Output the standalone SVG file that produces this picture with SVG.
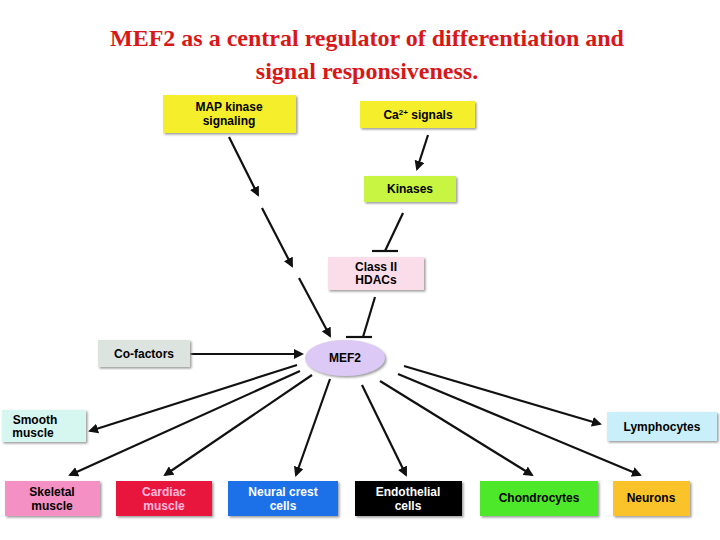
<svg xmlns="http://www.w3.org/2000/svg" width="720" height="540" viewBox="0 0 720 540">
<defs>
<marker id="a" markerWidth="10" markerHeight="10" refX="8" refY="5" orient="auto" markerUnits="userSpaceOnUse"><path d="M0,0 L10,5 L0,10 Z" fill="#111"/></marker>
<filter id="s"><feDropShadow dx="1.5" dy="1.5" stdDeviation="0.8" flood-color="#999"/></filter>
</defs>
<style>
.b{filter:url(#s)}
.t{font-family:"Liberation Sans",Arial,sans-serif;font-weight:bold;font-size:12px;text-anchor:middle}
.h{font-family:"Liberation Serif","Times New Roman",serif;font-weight:bold;font-size:24px;text-anchor:middle;fill:#d81818}
.c line{stroke:#111;stroke-width:2.2}
.m{marker-end:url(#a)}
</style>
<rect width="720" height="540" fill="#fff"/>
<text class="h" x="367" y="46">MEF2 as a central regulator of differentiation and</text>
<text class="h" x="367" y="79">signal responsiveness.</text>
<g class="c">
<line class="m" x1="229" y1="137" x2="258" y2="195"/>
<line class="m" x1="262" y1="208" x2="292" y2="266"/>
<line class="m" x1="299" y1="278" x2="330" y2="336"/>
<line class="m" x1="428" y1="135" x2="417" y2="169"/>
<line x1="403" y1="213" x2="385" y2="251"/><line x1="372" y1="251" x2="398" y2="251"/>
<line x1="375" y1="297" x2="363" y2="337"/><line x1="346" y1="337" x2="372" y2="337"/>
<line class="m" x1="190" y1="354" x2="302" y2="354"/>
<line class="m" x1="297" y1="365" x2="90" y2="431"/>
<line class="m" x1="300" y1="371" x2="70" y2="475"/>
<line class="m" x1="312" y1="375" x2="165" y2="475"/>
<line class="m" x1="330" y1="379" x2="296" y2="475"/>
<line class="m" x1="362" y1="385" x2="406" y2="475"/>
<line class="m" x1="380" y1="381" x2="532" y2="475"/>
<line class="m" x1="398" y1="374" x2="640" y2="475"/>
<line class="m" x1="404" y1="366" x2="600" y2="424"/>
</g>
<g id="map"><rect class="b" x="163" y="95" width="133" height="38" fill="#f5ee2a"/><text class="t" x="229" y="111">MAP kinase</text><text class="t" x="229" y="125">signaling</text></g>
<g id="ca"><rect class="b" x="360" y="101" width="115" height="27" fill="#f5ee2a"/><text class="t" x="418" y="119">Ca<tspan font-size="8" dy="-4">2+</tspan><tspan dy="4"> signals</tspan></text></g>
<g id="kin"><rect class="b" x="364" y="176" width="92" height="26" fill="#c8f542"/><text class="t" x="410" y="193">Kinases</text></g>
<g id="hdac"><rect class="b" x="328" y="257" width="96" height="33" fill="#fbdde9"/><text class="t" x="376" y="271">Class II</text><text class="t" x="376" y="284">HDACs</text></g>
<g id="cof"><rect class="b" x="98" y="340" width="92" height="27" fill="#dde4e0"/><text class="t" x="144" y="358">Co-factors</text></g>
<g id="mef2"><ellipse class="b" cx="345" cy="358" rx="40" ry="18" fill="#ddc9f5"/><text class="t" x="345" y="362">MEF2</text></g>
<g id="smooth"><rect class="b" x="2" y="410" width="84" height="32" fill="#d6f7f0"/><text class="t" x="35" y="424">Smooth</text><text class="t" x="33" y="437">muscle</text></g>
<g id="lym"><rect class="b" x="607" y="412" width="110" height="29" fill="#c9f0fa"/><text class="t" x="662" y="431">Lymphocytes</text></g>
<g id="skel"><rect class="b" x="5" y="481" width="95" height="35" fill="#f590c4"/><text class="t" x="52" y="496">Skeletal</text><text class="t" x="52" y="510">muscle</text></g>
<g id="card"><rect class="b" x="116" y="481" width="96" height="35" fill="#e8163c"/><text class="t" x="164" y="496" fill="#fbd">Cardiac</text><text class="t" x="164" y="510" fill="#fbd">muscle</text></g>
<g id="neural"><rect class="b" x="228" y="481" width="110" height="35" fill="#1f6fe8"/><text class="t" x="283" y="496" fill="#fff">Neural crest</text><text class="t" x="283" y="510" fill="#fff">cells</text></g>
<g id="endo"><rect class="b" x="355" y="481" width="107" height="35" fill="#000"/><text class="t" x="408" y="496" fill="#fff">Endothelial</text><text class="t" x="408" y="510" fill="#fff">cells</text></g>
<g id="chon"><rect class="b" x="480" y="481" width="118" height="35" fill="#4de82a"/><text class="t" x="539" y="502">Chondrocytes</text></g>
<g id="neur"><rect class="b" x="613" y="481" width="77" height="35" fill="#fbc32a"/><text class="t" x="651" y="502">Neurons</text></g>
</svg>
